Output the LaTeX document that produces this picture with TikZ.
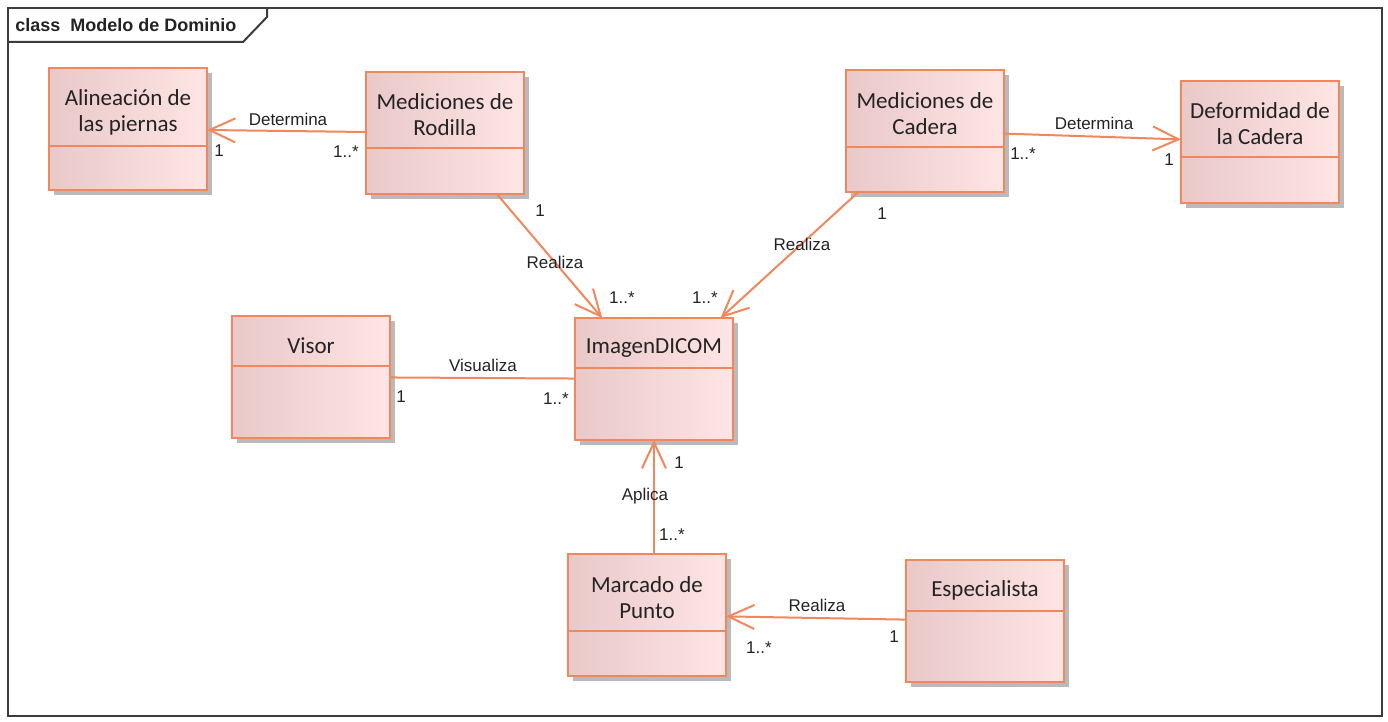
\documentclass[tikz,border=0pt]{standalone}
\usepackage{fontspec}
\setmainfont{Carlito}
\newfontfamily\labelfont{Liberation Sans}
\usetikzlibrary{arrows.meta, shadows, calc}

\definecolor{umlorange}{RGB}{242,134,92}
\definecolor{umlpinkL}{RGB}{233,200,200}
\definecolor{umlpinkR}{RGB}{255,229,229}
\definecolor{umlframe}{RGB}{60,60,60}
\definecolor{umltext}{RGB}{35,35,35}

% class box: id, centre, name, header height
\newcommand{\umlclass}[4]{%
  \node[cls] (#1) at (#2) {};
  \node[clsname] (#1_name) at ($(#1.north)+(0,#4/2+5)$) {#3};
  \draw[clsline] ($(#1.north west)+(0,#4)$) -- ($(#1.north east)+(0,#4)$);
}

\begin{document}
\begin{tikzpicture}[x=0.5pt, y=-0.5pt,
  cls/.style={
    draw=umlorange,
    line width=1pt,
    rectangle,
    minimum width=79pt,
    minimum height=61pt,
    inner sep=0pt,
    outer sep=0pt,
    left color=umlpinkL,
    right color=umlpinkR,
    drop shadow={shadow xshift=2.5pt, shadow yshift=-2.5pt, fill=black!27, opacity=1}
  },
  clsname/.style={
    font=\fontsize{11.5}{13}\selectfont,
    text=umltext,
    align=center,
    inner sep=0pt
  },
  clsline/.style={draw=umlorange, line width=1pt},
  assoc/.style={draw=umlorange, line width=1pt, -{Straight Barb[length=13pt, width=12pt]}},
  link/.style={draw=umlorange, line width=1pt},
  lbl/.style={font=\labelfont\fontsize{8.5}{10}\selectfont, text=umltext, inner sep=0pt},
  framebox/.style={draw=umlframe, line width=1pt}
  ]

\useasboundingbox (0,0) rectangle (1388,722);

% Frame
\draw[framebox] (8,8) rectangle (1382,716);
\draw[framebox] (8,42) -- (243,42) -- (267,17) -- (267,8);
\node[lbl, anchor=west, font=\labelfont\bfseries\fontsize{9}{11}\selectfont] (frame_title) at (15,25) {class\ \ Modelo de Dominio};

% Classes
\umlclass{alin_pier}{128,129}{Alineación de\\las piernas}{78}
\umlclass{med_rod}{445,133}{Mediciones de\\Rodilla}{76}
\umlclass{med_cad}{925,131}{Mediciones de\\Cadera}{77}
\umlclass{def_cad}{1260,142}{Deformidad de\\la Cadera}{76}
\umlclass{visor}{311,377}{Visor}{50}
\umlclass{img_dicom}{654,379}{ImagenDICOM}{50}
\umlclass{marc_punto}{647,615}{Marcado de\\Punto}{77}
\umlclass{especialista}{985,621}{Especialista}{51}

% Associations
\draw[assoc] (med_rod) -- (alin_pier);
\draw[assoc] (med_cad) -- (def_cad);
\draw[assoc] (med_rod) -- (img_dicom);
\draw[assoc] (med_cad) -- (img_dicom);
\draw[link] (visor) -- (img_dicom);
\draw[assoc] (marc_punto.north -| img_dicom_name) -- (img_dicom.south -| img_dicom_name);
\draw[assoc] (especialista) -- (marc_punto);

% Association labels
\node[lbl] (det_rod) at (288,119) {Determina};
\node[lbl] (det_cad) at (1094,123) {Determina};
\node[lbl] (rea_rod) at (555,262) {Realiza};
\node[lbl] (rea_cad) at (802,244) {Realiza};
\node[lbl] (vis_img) at (483,365) {Visualiza};
\node[lbl] (apl_img) at (645,496) {Aplica};
\node[lbl] (rea_esp) at (817,605) {Realiza};

% Multiplicities
\node[lbl] (m_alin) at (219,151) {1};
\node[lbl] (m_rod_a) at (346,152) {1..*};
\node[lbl] (m_cad_d) at (1023,154) {1..*};
\node[lbl] (m_def) at (1169,160) {1};
\node[lbl] (m_rod_i) at (540,211) {1};
\node[lbl] (m_img_r) at (622,298) {1..*};
\node[lbl] (m_cad_i) at (882,214) {1};
\node[lbl] (m_img_c) at (705,298) {1..*};
\node[lbl] (m_visor) at (401,397) {1};
\node[lbl] (m_img_v) at (556,399) {1..*};
\node[lbl] (m_img_m) at (679,463) {1};
\node[lbl] (m_marc_i) at (672,535) {1..*};
\node[lbl] (m_esp) at (894,637) {1};
\node[lbl] (m_marc_e) at (759,648) {1..*};

\end{tikzpicture}
\end{document}
